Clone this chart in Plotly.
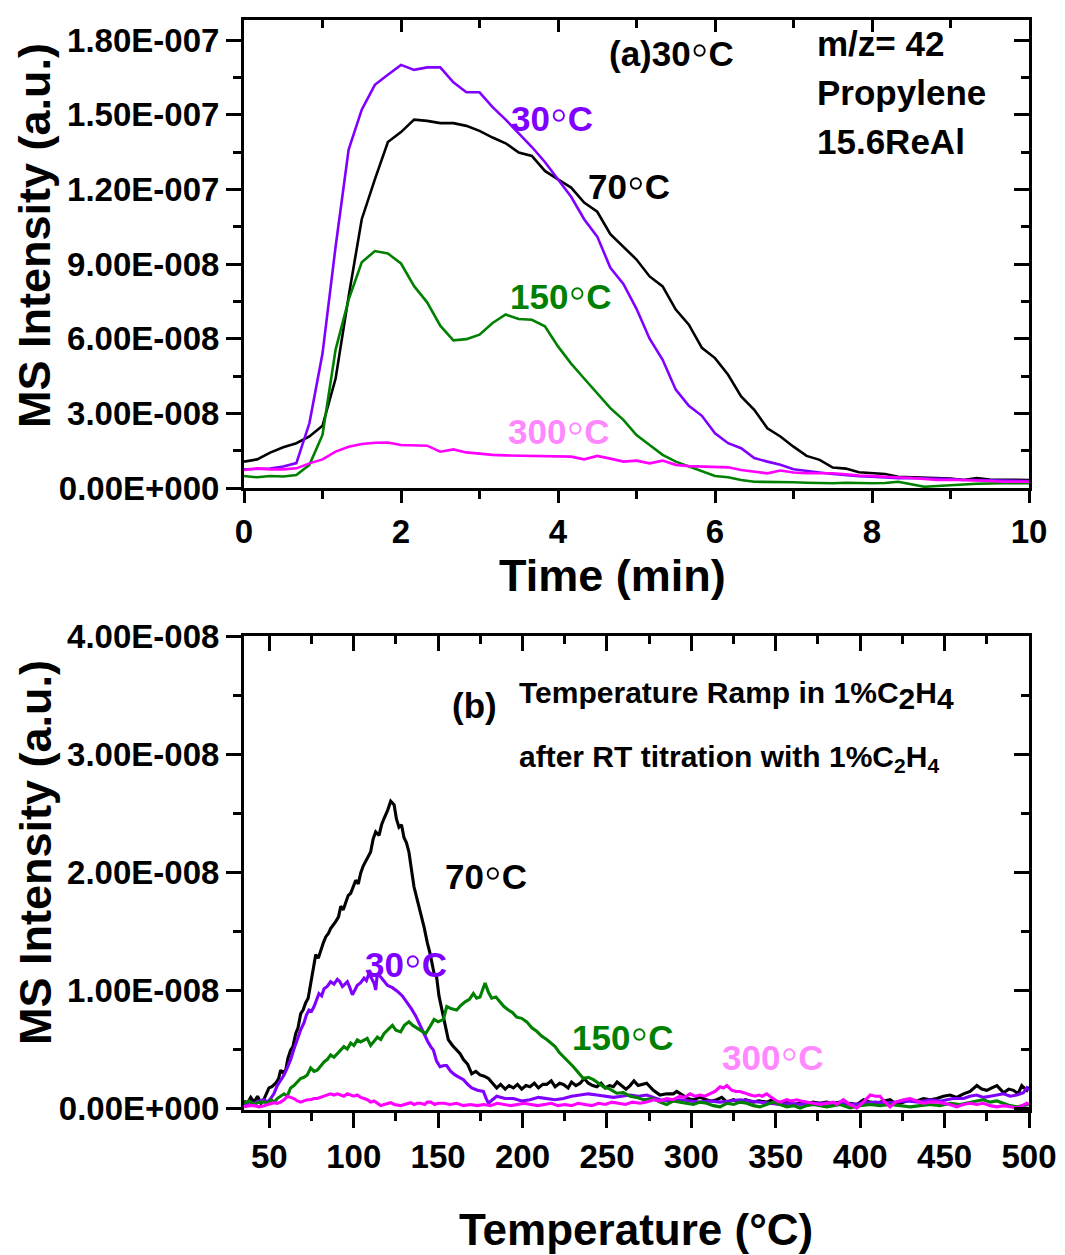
import plotly.graph_objects as go

# ---------------- (a) isothermal m/z = 42 signal vs time ----------------
time_min = [
    0.0, 0.167, 0.333, 0.5, 0.667, 0.833, 1.0, 1.167, 1.333, 1.5, 1.667, 1.833,
    2.0, 2.167, 2.333, 2.5, 2.667, 2.833, 3.0, 3.167, 3.333, 3.5, 3.667, 3.833,
    4.0, 4.167, 4.333, 4.5, 4.667, 4.833, 5.0, 5.167, 5.333, 5.5, 5.667, 5.833,
    6.0, 6.167, 6.333, 6.5, 6.667, 6.833, 7.0, 7.167, 7.333, 7.5, 7.667, 7.833,
    8.0, 8.167, 8.333, 8.5, 8.667, 8.833, 9.0, 9.167, 9.333, 9.5, 9.667, 9.833, 10.0,
]
# intensities in units of 1e-8
iso_30C = [
    0.75, 0.78, 0.78, 0.86, 1.0, 2.6, 5.4, 9.7, 13.6, 15.2, 16.2, 16.6,
    17.0, 16.8, 16.9, 16.9, 16.3, 15.9, 15.9, 15.3, 14.8, 14.25, 13.7, 13.1,
    12.4, 11.7, 10.8, 10.1, 8.85, 8.2, 7.2, 6.0, 5.15, 3.95, 3.3, 2.9,
    2.2, 1.8, 1.6, 1.2, 1.06, 0.93, 0.75, 0.7, 0.62, 0.56, 0.5, 0.47,
    0.45, 0.42, 0.39, 0.40, 0.39, 0.40, 0.36, 0.33, 0.32, 0.31, 0.30, 0.29, 0.28,
]
iso_70C = [
    1.06, 1.15, 1.42, 1.64, 1.8, 2.07, 2.5, 4.4, 7.7, 10.8, 12.4, 13.9,
    14.3, 14.8, 14.75, 14.66, 14.66, 14.55, 14.35, 14.08, 13.85, 13.48, 13.34, 12.74,
    12.4, 12.07, 11.47, 11.1, 10.2, 9.7, 9.18, 8.5, 8.1, 7.17, 6.56, 5.63,
    5.22, 4.55, 3.68, 3.14, 2.4, 2.07, 1.66, 1.29, 1.13, 0.82, 0.78, 0.63,
    0.6, 0.56, 0.45, 0.44, 0.42, 0.4, 0.38, 0.32, 0.4, 0.34, 0.33, 0.33, 0.32,
]
iso_150C = [
    0.48, 0.43, 0.48, 0.46, 0.52, 0.93, 2.13, 5.56, 7.57, 9.07, 9.52, 9.42,
    9.02, 8.11, 7.46, 6.52, 5.93, 5.98, 6.16, 6.63, 6.97, 6.79, 6.76, 6.5,
    5.69, 5.0, 4.4, 3.81, 3.21, 2.74, 2.13, 1.73, 1.33, 1.06, 0.86, 0.65,
    0.48, 0.43, 0.32, 0.25, 0.25, 0.25, 0.23, 0.21, 0.2, 0.19, 0.21, 0.19,
    0.19, 0.2, 0.25, 0.15, 0.05, 0.08, 0.12, 0.14, 0.17, 0.19, 0.19, 0.19, 0.19,
]
iso_300C = [
    0.72, 0.79, 0.75, 0.75, 0.79, 0.99, 1.15, 1.46, 1.66, 1.77, 1.82, 1.83,
    1.73, 1.73, 1.7, 1.46, 1.55, 1.43, 1.37, 1.33, 1.31, 1.3, 1.3, 1.29,
    1.26, 1.26, 1.15, 1.29, 1.18, 1.06, 1.1, 0.99, 1.1, 0.93, 0.88, 0.86,
    0.85, 0.83, 0.72, 0.65, 0.59, 0.7, 0.62, 0.59, 0.59, 0.59, 0.55, 0.5,
    0.48, 0.46, 0.43, 0.4, 0.36, 0.32, 0.33, 0.32, 0.3, 0.28, 0.25, 0.25, 0.25,
]

# ---------------- (b) temperature ramp in 1% C2H4 ----------------
tpr_70C_T = [
    35, 37, 39, 41, 43, 45, 47, 49.8, 51.5, 53.8, 55.5, 56.7, 58, 59.7, 61, 62.6, 64,
    65.6, 67, 68.6, 70, 71.5, 73, 74.5, 76, 77.5, 79, 80.4, 82, 83.4, 85, 86.3, 88,
    89.3, 91, 92.3, 93.8, 95.2, 96.7, 98.2, 99.7, 101.2, 102.7, 104.1, 105.6, 107.1,
    108.6, 110, 111.5, 113, 115, 116.5, 118, 120, 121.9, 123.9, 125.3, 126.8, 128.3,
    129.8, 131.2, 132.7, 134.2, 135.7, 137.7, 139.7, 141.7, 143.6, 145.2, 147.6, 149.1,
    150.5, 153.1, 154.5, 156, 158.5, 161, 163, 165, 167.5, 169.9, 172.3, 174.8, 177.3,
    179.8, 182.2, 184.7, 187, 189.7, 192, 194.6, 197, 199.5, 202, 204.4, 207, 209.4,
    212, 214.3, 217, 219.3, 222, 224.2, 227, 229, 231.6, 234.1, 236.5, 239, 241.5, 244,
    246.5, 249, 251.5, 253.8, 256, 258.8, 261.3, 263.7, 266, 268.5, 271, 273.5, 277.5,
    281.4, 285.4, 289.3, 291.3, 295.3, 298, 301.2, 305, 309, 312, 315, 318, 321, 325,
    328.8, 332, 336.7, 340, 344.6, 348, 352.5, 356, 360.4, 364, 368.3, 372, 376.2, 380,
    384.1, 388, 390.1, 394, 398, 402, 406, 409.8, 414, 417.7, 421.7, 425.6, 429.6, 433.5,
    437.5, 441.4, 445.4, 449.3, 453.3, 457.2, 461.2, 465.1, 469.1, 472, 475, 478, 481,
    484.9, 488, 490.8, 493.5, 495.7, 498.7, 500,
]
tpr_70C = [
    0.06, 0.04, 0.09, 0.05, 0.10, 0.04, 0.08, 0.17, 0.18, 0.21, 0.25, 0.32, 0.30, 0.32, 0.42, 0.49, 0.52,
    0.63, 0.68, 0.80, 0.83, 0.89, 0.93, 1.06, 1.18, 1.30, 1.27, 1.34, 1.40, 1.45, 1.48, 1.52, 1.55,
    1.58, 1.62, 1.71, 1.68, 1.73, 1.80, 1.82, 1.88, 1.93, 1.90, 1.99, 2.05, 2.09,
    2.12, 2.17, 2.28, 2.34, 2.31, 2.40, 2.455, 2.52, 2.60, 2.57, 2.45, 2.38, 2.40,
    2.29, 2.25, 2.17, 2.02, 1.875, 1.76, 1.65, 1.53, 1.40, 1.31, 1.14, 1.11,
    0.95, 0.77, 0.68, 0.58, 0.53, 0.49, 0.46, 0.41, 0.37, 0.29, 0.31, 0.28, 0.27,
    0.25, 0.21, 0.17, 0.20, 0.16, 0.19, 0.17, 0.20, 0.16, 0.19, 0.18, 0.21, 0.17,
    0.20, 0.20, 0.23, 0.18, 0.21, 0.20, 0.17, 0.22, 0.19, 0.21, 0.25, 0.21, 0.19, 0.18,
    0.21, 0.17, 0.19, 0.18, 0.22, 0.19, 0.16, 0.19, 0.23, 0.19, 0.20, 0.21, 0.15,
    0.11, 0.12, 0.12, 0.14, 0.10, 0.08, 0.07, 0.09, 0.07, 0.06, 0.07, 0.09, 0.05, 0.07,
    0.05, 0.07, 0.05, 0.06, 0.05, 0.07, 0.04, 0.05, 0.03, 0.04, 0.03, 0.05, 0.04, 0.05,
    0.04, 0.05, 0.03, 0.04, 0.03, 0.07, 0.05, 0.04, 0.06, 0.07, 0.03, 0.05, 0.07, 0.06,
    0.08, 0.07, 0.08, 0.10, 0.11, 0.09, 0.12, 0.14, 0.19, 0.16, 0.15, 0.17, 0.19,
    0.13, 0.16, 0.15, 0.12, 0.19, 0.15, 0.18,
]

tpr_30C_T = [
    35, 38, 41, 44, 46.8, 48.8, 50.8, 52.7, 54.7, 56.7, 58.7, 60.6, 62.6, 64.6, 66.6,
    68.5, 70.5, 72, 73.5, 75, 76.5, 78, 79.4, 81, 82.4, 84.3, 86.3, 88.3, 90.3, 91.8,
    93.3, 94.8, 96.2, 97.7, 99.2, 100.7, 102.1, 104, 106.1, 107.5, 109, 110.5, 112, 113,
    114, 116, 118, 119.9, 122.9, 125.8, 128.8, 131.8, 134.2, 136.7, 139.2, 141.6, 143.6,
    145.6, 147.2, 149, 151.1, 153.5, 155, 157.5, 160, 162.5, 165, 167.5, 169.9, 173.3,
    176.8, 178.5, 179.8, 182.2, 184.7, 189.6, 194.6, 199.5, 204.4, 209.4, 214.3, 219.3,
    224.2, 229, 234.1, 239, 244, 249, 253.8, 258.8, 263.7, 268.6, 273.6, 277.5, 281.4,
    287.4, 293.3, 299.2, 305.1, 311, 317, 323, 328.8, 334.7, 340.7, 346.6, 352.5, 358.5,
    364.4, 370.3, 376.2, 382, 388, 395, 402, 409, 415, 421.7, 428, 434.5, 441.4, 448,
    455, 461.2, 465, 469, 473, 477, 481, 484.9, 488.8, 492.8, 496.7, 498.7, 500,
]
tpr_30C = [
    0.03, 0.05, 0.04, 0.06, 0.07, 0.05, 0.08, 0.12, 0.19, 0.23, 0.28, 0.34, 0.41, 0.50, 0.58,
    0.66, 0.72, 0.79, 0.83, 0.82, 0.86, 0.92, 0.97, 0.95, 1.01, 1.03, 1.07, 1.05, 1.09, 1.07,
    1.03, 1.05, 1.07, 1.02, 0.96, 1.00, 1.04, 1.06, 1.10, 1.08, 1.14, 1.10, 1.06, 1.00,
    1.14, 1.11, 1.07, 1.04, 1.02, 0.99, 0.95, 0.89, 0.84, 0.78, 0.70, 0.63, 0.57,
    0.52, 0.49, 0.40, 0.35, 0.36, 0.36, 0.31, 0.28, 0.26, 0.24, 0.20, 0.17, 0.15,
    0.14, 0.08, 0.04, 0.07, 0.10, 0.08, 0.08, 0.06, 0.07, 0.09, 0.08, 0.07,
    0.08, 0.10, 0.11, 0.12, 0.11, 0.10, 0.09, 0.10, 0.11, 0.10, 0.11, 0.09, 0.07,
    0.06, 0.07, 0.06, 0.05, 0.06, 0.05, 0.06, 0.07, 0.06, 0.05, 0.04, 0.03, 0.04,
    0.03, 0.04, 0.04, 0.04, 0.04, 0.03, 0.04, 0.05, 0.04, 0.05, 0.06, 0.05, 0.07, 0.06,
    0.08, 0.08, 0.10, 0.11, 0.09, 0.10, 0.11, 0.12, 0.10, 0.11, 0.13, 0.17, 0.15,
]

tpr_150C_T = [
    35, 38, 41, 44, 46.8, 49, 51, 53, 54.7, 56.7, 58.7, 60.6, 62.6, 64.6, 66.6, 68.5,
    70.5, 72.5, 74.5, 76.5, 78.4, 80.4, 82.4, 84.3, 86.3, 88.3, 90.3, 92.2, 94.2, 96.2,
    98.2, 100.1, 102.1, 104.1, 106.1, 108, 110, 112, 114, 116, 117.9, 120, 122.9, 125,
    127.8, 130, 132.7, 135, 137.7, 140, 142.6, 145.2, 147.6, 150, 153.1, 155.1, 158, 161,
    163.5, 166, 168.5, 170.9, 172.8, 174.8, 176.3, 177.8, 179.8, 181.7, 184.2, 186.7, 189,
    191.6, 194, 196.5, 199.5, 202.5, 205.5, 208.4, 211.3, 214.3, 216.8, 219.3, 221.8,
    224.2, 227.2, 230.1, 233, 236, 239, 242, 245, 247.9, 251.8, 255.8, 259.7, 263.7,
    267.6, 271.6, 277.5, 281.4, 285.4, 289.3, 293.3, 297.3, 301.2, 305.1, 309, 313, 317,
    321, 325, 328.8, 332.8, 336.7, 340.7, 344.6, 348.6, 352.5, 356.5, 360.4, 364.4, 368.3,
    372.3, 376.2, 380.2, 384.1, 388, 394, 400, 405.9, 411.8, 417.7, 423.6, 429.6, 435.5,
    441.4, 447.3, 453.3, 459.2, 465.1, 469, 473, 477, 481, 484.9, 488.8, 492.8, 496.7, 500,
]
tpr_150C = [
    0.04, 0.06, 0.03, 0.05, 0.05, 0.04, 0.07, 0.05, 0.08, 0.10, 0.12, 0.10, 0.17, 0.19, 0.22, 0.25,
    0.26, 0.28, 0.34, 0.31, 0.32, 0.36, 0.39, 0.41, 0.45, 0.43, 0.46, 0.49, 0.52, 0.50,
    0.55, 0.53, 0.577, 0.56, 0.577, 0.59, 0.53, 0.57, 0.60, 0.58, 0.63, 0.66, 0.70, 0.66,
    0.645, 0.70, 0.73, 0.70, 0.675, 0.66, 0.63, 0.69, 0.75, 0.73, 0.75, 0.86, 0.84, 0.83,
    0.87, 0.90, 0.92, 0.97, 0.93, 0.94, 1.00, 1.06, 0.98, 0.93, 0.94, 0.90, 0.86,
    0.83, 0.81, 0.77, 0.76, 0.73, 0.68, 0.65, 0.61, 0.58, 0.55, 0.52, 0.47,
    0.435, 0.40, 0.35, 0.30, 0.25, 0.26, 0.24, 0.21, 0.18, 0.16, 0.125, 0.13, 0.10,
    0.09, 0.07, 0.08, 0.05, 0.03, 0.06, 0.05, 0.04, 0.03, 0.05, 0.04, 0.02, 0.01,
    0.04, 0.03, 0.05, 0.04, 0.02, 0.01, 0.03, 0.05, 0.03, 0.01, 0.02, 0.0, 0.02,
    0.03, 0.02, 0.01, 0.02, 0.03, 0.0, 0.02, 0.03, 0.02, 0.03, 0.02, 0.01, 0.02,
    0.03, 0.02, 0.04, 0.03, 0.05, 0.06, 0.07, 0.05, 0.06, 0.04, 0.02, 0.01, 0.02, 0.03,
]

tpr_300C_T = [
    35, 38, 41, 44, 46.8, 50, 52.8, 54.7, 56.7, 58.7, 60.7, 62.6, 64.6, 66.6, 68.6, 70.5,
    72.5, 74.5, 76.5, 78.4, 80.4, 82.4, 84.3, 86.3, 88.3, 90.3, 92.3, 94.2, 96.2, 98.2,
    100.1, 102.1, 104.1, 106.1, 108.1, 110, 112, 113, 116, 118, 120, 121.9, 124, 125.8,
    127.8, 130, 131.8, 133.7, 135.7, 137.7, 139.7, 142, 143.6, 145.6, 148, 150, 153.5,
    157, 161, 165, 169, 173, 177, 181, 185, 189, 193, 197, 201, 205, 209, 213, 217, 221,
    225, 229, 233, 237, 241, 245, 249, 253, 257, 261, 265, 269.6, 273.5, 277.5, 281.4,
    285.4, 289.3, 293.3, 296, 299.2, 302, 305.1, 308, 311, 314, 317, 319, 321, 322.5, 324,
    326.5, 328.8, 331, 332.8, 335, 337.7, 340, 342, 344.6, 346.5, 348.6, 350.5, 352.5,
    354.5, 356.5, 359, 362.4, 365, 368.3, 372, 376.2, 380, 384.1, 386, 388, 390, 394, 398,
    401, 404, 406, 409, 411.8, 414, 417.7, 421, 425.6, 429.6, 433, 437.5, 441, 445.4, 449,
    453, 457.2, 461, 465.1, 469, 473, 477, 481, 485, 488.8, 492.8, 496, 498.7, 500,
]
tpr_300C = [
    0.01, 0.02, 0.02, 0.01, 0.02, 0.03, 0.045, 0.04, 0.05, 0.07, 0.10, 0.09, 0.08, 0.06, 0.05, 0.06,
    0.07, 0.07, 0.08, 0.08, 0.09, 0.10, 0.11, 0.12, 0.11, 0.12, 0.11, 0.10, 0.12, 0.11,
    0.10, 0.11, 0.09, 0.08, 0.07, 0.05, 0.06, 0.05, 0.02, 0.03, 0.04, 0.045, 0.03, 0.025,
    0.02, 0.03, 0.04, 0.045, 0.03, 0.04, 0.04, 0.03, 0.05, 0.05, 0.03, 0.04, 0.04,
    0.03, 0.04, 0.02, 0.03, 0.02, 0.03, 0.02, 0.04, 0.03, 0.02, 0.03, 0.04, 0.03, 0.02, 0.03, 0.04, 0.02,
    0.03, 0.02, 0.04, 0.03, 0.02, 0.04, 0.03, 0.05, 0.04, 0.03, 0.05, 0.04, 0.05, 0.07, 0.06,
    0.08, 0.07, 0.10, 0.09, 0.12, 0.10, 0.11, 0.10, 0.12, 0.14, 0.18, 0.17, 0.19, 0.17, 0.15,
    0.14, 0.14, 0.13, 0.12, 0.11, 0.10, 0.11, 0.10, 0.12, 0.10, 0.08, 0.06, 0.05,
    0.06, 0.07, 0.06, 0.07, 0.06, 0.05, 0.04, 0.03, 0.04, 0.05, 0.03, 0.05, 0.07, 0.03, 0.0,
    0.04, 0.08, 0.11, 0.10, 0.10, 0.06, 0.01, 0.05, 0.07, 0.08, 0.06, 0.04, 0.05, 0.05, 0.04,
    0.03, 0.01, 0.03, 0.04, 0.03, 0.04, 0.02, 0.01, 0.02, 0.01, 0.0, 0.02, 0.04, 0.03,
]

# tick labels
top_y_vals = [0, 3e-8, 6e-8, 9e-8, 1.2e-7, 1.5e-7, 1.8e-7]
top_y_text = ["0.00E+000", "3.00E-008", "6.00E-008", "9.00E-008",
              "1.20E-007", "1.50E-007", "1.80E-007"]
bot_y_vals = [0, 1e-8, 2e-8, 3e-8, 4e-8]
bot_y_text = ["0.00E+000", "1.00E-008", "2.00E-008", "3.00E-008", "4.00E-008"]
top_x_vals = [0, 2, 4, 6, 8, 10]
bot_x_vals = [50, 100, 150, 200, 250, 300, 350, 400, 450, 500]

PURPLE = "#8000FF"
BLACK = "#000000"
GREEN = "#008000"
MAGENTA = "#FF00FF"
PINK = "#FF88FF"
FONT = "Arial, 'Liberation Sans', sans-serif"
# thin open ring used as the degree sign in the curve labels
DEG = "<span style='font-weight:normal;font-size:50px'>◦</span>"

W, H = 1065, 1255
# plot frames in pixels
L, R = 244, 1029
TOP_T, TOP_B = 20, 488
BOT_T, BOT_B = 636, 1110

def px_dom_x(a, b):
    return [a / W, b / W]

def px_dom_y(top, bottom):
    return [1 - bottom / H, 1 - top / H]

TOP_YMAX = 1.8e-7 * (TOP_B - TOP_T) / (TOP_B - 40)
BOT_YMIN = -2 / 118 * 1e-8

fig = go.Figure()

def s8(vals):
    return [v * 1e-8 for v in vals]

for name, vals, col in [("70°C", iso_70C, BLACK), ("30°C", iso_30C, PURPLE),
                        ("150°C", iso_150C, GREEN), ("300°C", iso_300C, MAGENTA)]:
    fig.add_trace(go.Scatter(x=time_min, y=s8(vals), mode="lines", name=name,
                             line=dict(color=col, width=2.6), xaxis="x", yaxis="y",
                             showlegend=False))

for name, tt, vals, col in [("70°C", tpr_70C_T, tpr_70C, BLACK),
                            ("30°C", tpr_30C_T, tpr_30C, PURPLE),
                            ("150°C", tpr_150C_T, tpr_150C, GREEN),
                            ("300°C", tpr_300C_T, tpr_300C, MAGENTA)]:
    fig.add_trace(go.Scatter(x=tt, y=s8(vals), mode="lines", name=name,
                             line=dict(color=col, width=3.1), xaxis="x2", yaxis="y2",
                             showlegend=False))

# empty traces so the mirrored frame axes get drawn
fig.add_trace(go.Scatter(x=[None], y=[None], xaxis="x3", yaxis="y3", showlegend=False, hoverinfo="skip"))
fig.add_trace(go.Scatter(x=[None], y=[None], xaxis="x4", yaxis="y4", showlegend=False, hoverinfo="skip"))

tick_font = dict(family=FONT, size=33, color="black", weight="bold")
LW = 3

def base_axis(**kw):
    d = dict(showline=True, linewidth=LW, linecolor="black", showgrid=False,
             zeroline=False, ticks="outside", tickwidth=LW, tickcolor="black",
             ticklen=15, tickfont=tick_font, automargin=False)
    d.update(kw)
    return d

def mirror_axis(**kw):
    d = dict(showline=True, linewidth=LW, linecolor="black", showgrid=False,
             zeroline=False, ticks="inside", tickwidth=LW, tickcolor="black",
             ticklen=15, showticklabels=False, automargin=False)
    d.update(kw)
    return d

top_x_minor = dict(tickvals=[1, 3, 5, 7, 9], ticklen=8, tickwidth=LW, tickcolor="black")
top_y_minor = dict(tickvals=[1.5e-8, 4.5e-8, 7.5e-8, 1.05e-7, 1.35e-7, 1.65e-7],
                   ticklen=8, tickwidth=LW, tickcolor="black")
bot_x_minor = dict(tickvals=[75, 125, 175, 225, 275, 325, 375, 425, 475],
                   ticklen=8, tickwidth=LW, tickcolor="black")
bot_y_minor = dict(tickvals=[0.5e-8, 1.5e-8, 2.5e-8, 3.5e-8],
                   ticklen=8, tickwidth=LW, tickcolor="black")

fig.update_layout(
    width=W, height=H, margin=dict(l=0, r=0, t=0, b=0, autoexpand=False),
    paper_bgcolor="white", plot_bgcolor="white",
    font=dict(family=FONT, color="black"),
    xaxis=base_axis(domain=px_dom_x(L, R), anchor="y", range=[0, 10],
                    tickmode="array", tickvals=top_x_vals, ticklen=12,
                    minor=dict(top_x_minor, ticks="outside")),
    yaxis=base_axis(domain=px_dom_y(TOP_T, TOP_B), anchor="x", range=[0, TOP_YMAX],
                    tickmode="array", tickvals=top_y_vals, ticktext=top_y_text,
                    minor=dict(top_y_minor, ticks="outside")),
    xaxis3=mirror_axis(overlaying="x", side="top", anchor="y3", range=[0, 10],
                       tickmode="array", tickvals=top_x_vals, ticklen=12,
                       minor=dict(top_x_minor, ticks="inside")),
    yaxis3=mirror_axis(overlaying="y", side="right", anchor="x3", range=[0, TOP_YMAX],
                       tickmode="array", tickvals=top_y_vals,
                       minor=dict(top_y_minor, ticks="inside")),
    xaxis2=base_axis(domain=px_dom_x(L, R), anchor="y2", range=[35, 500],
                     tickmode="array", tickvals=bot_x_vals,
                     minor=dict(bot_x_minor, ticks="outside")),
    yaxis2=base_axis(domain=px_dom_y(BOT_T, BOT_B), anchor="x2", range=[BOT_YMIN, 4e-8],
                     tickmode="array", tickvals=bot_y_vals, ticktext=bot_y_text,
                     minor=dict(bot_y_minor, ticks="outside")),
    xaxis4=mirror_axis(overlaying="x2", side="top", anchor="y4", range=[35, 500],
                       tickmode="array", tickvals=bot_x_vals,
                       minor=dict(bot_x_minor, ticks="inside")),
    yaxis4=mirror_axis(overlaying="y2", side="right", anchor="x4", range=[BOT_YMIN, 4e-8],
                       tickmode="array", tickvals=bot_y_vals,
                       minor=dict(bot_y_minor, ticks="inside")),
)

def label(text, x, y, xref, yref, color="black", size=35, xanchor="center", angle=0):
    fig.add_annotation(text=text, x=x, y=y, xref=xref, yref=yref, showarrow=False,
                       xanchor=xanchor, yanchor="middle", textangle=angle,
                       font=dict(family=FONT, size=size, color=color, weight="bold"))

# axis titles
label("MS Intensity (a.u.)", 35 / W, 1 - 236 / H, "paper", "paper", size=45, angle=-90)
label("MS Intensity (a.u.)", 35 / W, 1 - 853 / H, "paper", "paper", size=45, angle=-90)
label("Time (min)", 612 / W, 1 - 575 / H, "paper", "paper", size=45)
label("Temperature (°C)", 636 / W, 1 - 1229 / H, "paper", "paper", size=44)

# panel (a) annotations
label("(a)30" + DEG + "C", 5.45, 1.764e-7, "x", "y")
label("m/z= 42", 7.27, 1.784e-7, "x", "y", xanchor="left")
label("Propylene", 7.27, 1.591e-7, "x", "y", xanchor="left")
label("15.6ReAl", 7.27, 1.393e-7, "x", "y", xanchor="left")
label("30" + DEG + "C", 3.92, 1.502e-7, "x", "y", color=PURPLE)
label("70" + DEG + "C", 4.90, 1.228e-7, "x", "y", color=BLACK)
label("150" + DEG + "C", 4.03, 0.789e-7, "x", "y", color=GREEN)
label("300" + DEG + "C", 4.01, 0.246e-7, "x", "y", color=PINK)

# panel (b) annotations
big_sub = "<sub><span style='font-size:30px'>{}</span></sub>"
label("(b)", 171.3, 3.415e-8, "x2", "y2")
label("Temperature Ramp in 1%C" + big_sub.format("2") + "H" + big_sub.format("4"),
      196.7, 3.50e-8, "x2", "y2", size=30, xanchor="left")
label("after RT titration with 1%C<sub>2</sub>H<sub>4</sub>",
      196.7, 2.96e-8, "x2", "y2", size=30, xanchor="left")
label("70" + DEG + "C", 178.4, 2.0e-8, "x2", "y2", color=BLACK)
label("30" + DEG + "C", 131, 1.254e-8, "x2", "y2", color=PURPLE)
label("150" + DEG + "C", 259, 0.636e-8, "x2", "y2", color=GREEN)
label("300" + DEG + "C", 347.8, 0.466e-8, "x2", "y2", color=PINK)

fig.write_html("out.html")
